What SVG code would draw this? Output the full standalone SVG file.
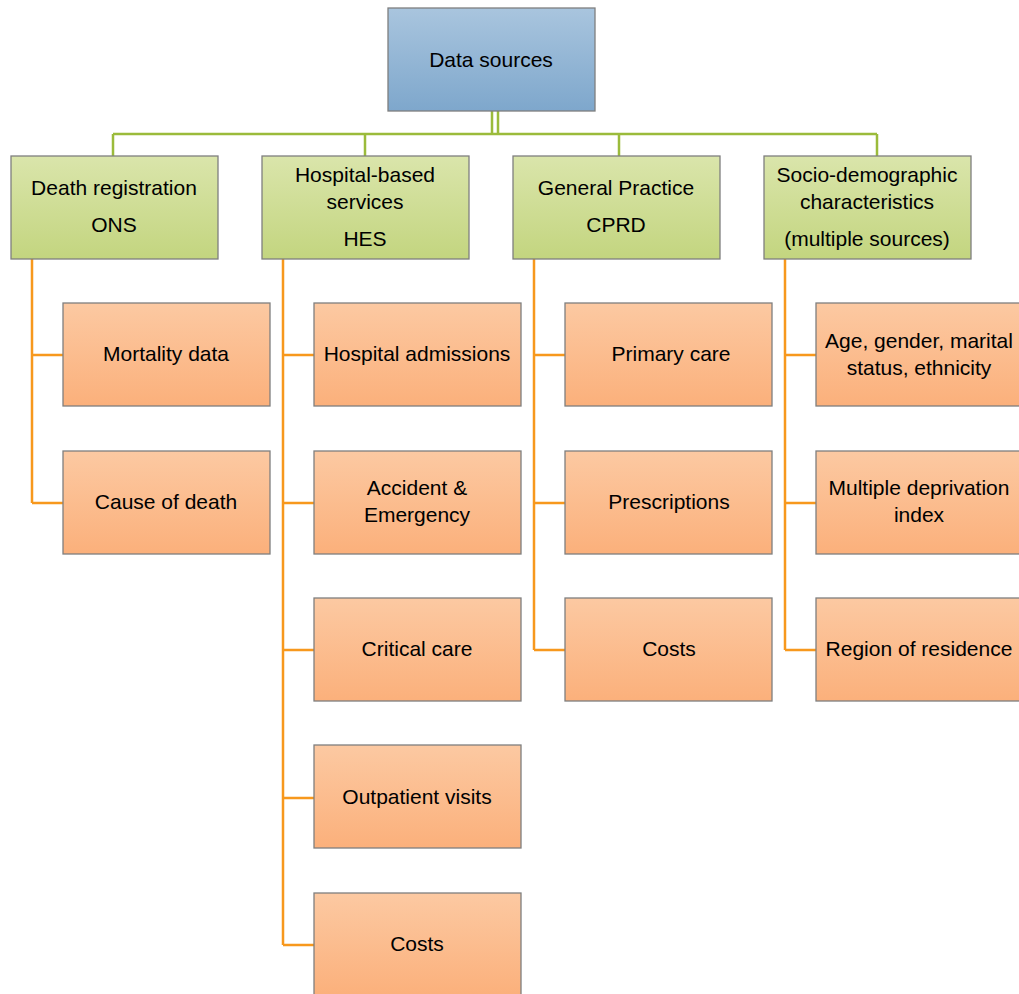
<svg xmlns="http://www.w3.org/2000/svg" width="1019" height="994" viewBox="0 0 1019 994">
<defs>
<linearGradient id="gb" x1="0" y1="0" x2="0" y2="1"><stop offset="0" stop-color="#a9c5de"/><stop offset="1" stop-color="#7ea7cc"/></linearGradient>
<linearGradient id="gg" x1="0" y1="0" x2="0" y2="1"><stop offset="0" stop-color="#dae5ab"/><stop offset="1" stop-color="#c3d57f"/></linearGradient>
<linearGradient id="go" x1="0" y1="0" x2="0" y2="1"><stop offset="0" stop-color="#fcc9a2"/><stop offset="1" stop-color="#fbb07b"/></linearGradient>
<style>
rect{stroke:#7f7f7f;stroke-width:1.3}
.b{fill:url(#gb)} .g{fill:url(#gg)} .o{fill:url(#go)}
text{font-family:"Liberation Sans",Arial,sans-serif;font-size:21px;fill:#000;text-anchor:middle}
.cg{stroke:#9bbb3b;stroke-width:2.5;fill:none}
.co{stroke:#f7981d;stroke-width:2.5;fill:none}
</style>
</defs>
<g id="connectors">
<path class="cg" d="M492,111V134M498,111V134M113,134H877M113,134V156M365,134V156M619,134V156M877,134V156"/>
<path class="co" d="M32,259V503M32,355H63M32,503H63"/>
<path class="co" d="M283,259V945M283,355H314M283,503H314M283,650H314M283,798H314M283,945H314"/>
<path class="co" d="M534,259V650M534,355H565M534,503H565M534,650H565"/>
<path class="co" d="M785,259V650M785,355H816M785,503H816M785,650H816"/>
</g>
<g id="root"><rect class="b" x="388" y="8" width="207" height="103"/><text x="491" y="67">Data sources</text></g>
<g id="ons"><rect class="g" x="11" y="156" width="207" height="103"/><text x="114" y="195">Death registration</text><text x="114" y="232">ONS</text></g>
<g id="hes"><rect class="g" x="262" y="156" width="207" height="103"/><text x="365" y="182">Hospital-based</text><text x="365" y="209">services</text><text x="365" y="246">HES</text></g>
<g id="cprd"><rect class="g" x="513" y="156" width="207" height="103"/><text x="616" y="195">General Practice</text><text x="616" y="232">CPRD</text></g>
<g id="socio"><rect class="g" x="764" y="156" width="207" height="103"/><text x="867" y="182">Socio-demographic</text><text x="867" y="209">characteristics</text><text x="867" y="246">(multiple sources)</text></g>
<g id="mortality"><rect class="o" x="63" y="303" width="207" height="103"/><text x="166" y="361">Mortality data</text></g>
<g id="cause"><rect class="o" x="63" y="451" width="207" height="103"/><text x="166" y="509">Cause of death</text></g>
<g id="admissions"><rect class="o" x="314" y="303" width="207" height="103"/><text x="417" y="361">Hospital admissions</text></g>
<g id="ae"><rect class="o" x="314" y="451" width="207" height="103"/><text x="417" y="495">Accident &amp;</text><text x="417" y="522">Emergency</text></g>
<g id="critical"><rect class="o" x="314" y="598" width="207" height="103"/><text x="417" y="656">Critical care</text></g>
<g id="outpatient"><rect class="o" x="314" y="745" width="207" height="103"/><text x="417" y="804">Outpatient visits</text></g>
<g id="hescosts"><rect class="o" x="314" y="893" width="207" height="103"/><text x="417" y="951">Costs</text></g>
<g id="primary"><rect class="o" x="565" y="303" width="207" height="103"/><text x="671" y="361">Primary care</text></g>
<g id="prescriptions"><rect class="o" x="565" y="451" width="207" height="103"/><text x="669" y="509">Prescriptions</text></g>
<g id="cprdcosts"><rect class="o" x="565" y="598" width="207" height="103"/><text x="669" y="656">Costs</text></g>
<g id="age"><rect class="o" x="816" y="303" width="207" height="103"/><text x="919" y="348">Age, gender, marital</text><text x="919" y="375">status, ethnicity</text></g>
<g id="imd"><rect class="o" x="816" y="451" width="207" height="103"/><text x="919" y="495">Multiple deprivation</text><text x="919" y="522">index</text></g>
<g id="region"><rect class="o" x="816" y="598" width="207" height="103"/><text x="919" y="656">Region of residence</text></g>
</svg>
